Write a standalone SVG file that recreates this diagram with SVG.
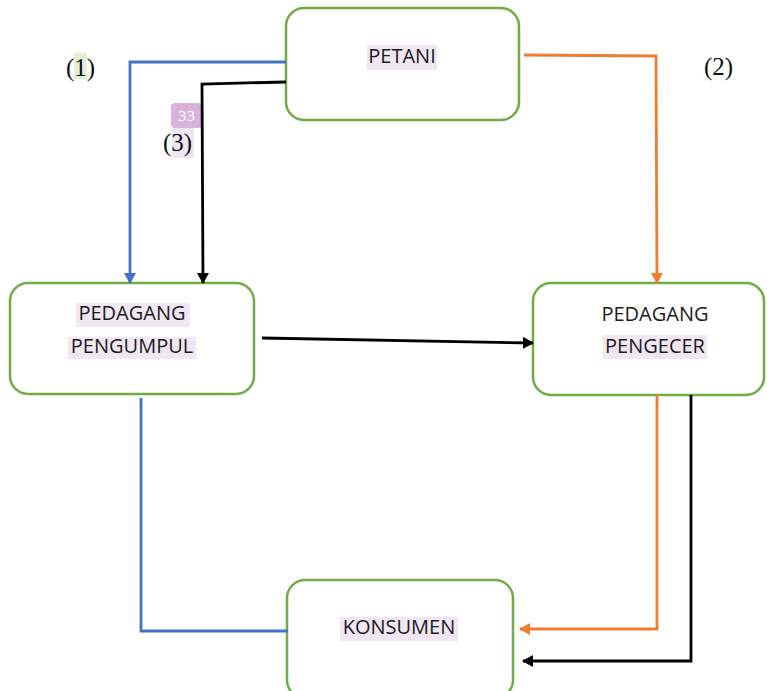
<svg xmlns="http://www.w3.org/2000/svg" width="767" height="691" viewBox="0 0 767 691">
<style>
.box{fill:#fff;stroke:#70AD47;stroke-width:2.5}
.t{font-family:"Open Sans","Liberation Sans",sans-serif;font-size:20px;fill:#1a1a1a;text-anchor:middle}
.hl{fill:#F1E6F4}
.lab{font-family:"Liberation Serif","Times New Roman",serif;font-size:25px;fill:#111}
.c{fill:none;stroke-width:2.8;stroke-linejoin:miter}
</style>
<defs>
<marker id="ab" markerUnits="userSpaceOnUse" markerWidth="12" markerHeight="12" refX="10" refY="6" orient="auto"><path d="M0,0 L11,6 L0,12 z" fill="#4472C4"/></marker>
<marker id="ak" markerUnits="userSpaceOnUse" markerWidth="12" markerHeight="12" refX="10" refY="6" orient="auto"><path d="M0,0 L11,6 L0,12 z" fill="#000"/></marker>
<marker id="ao" markerUnits="userSpaceOnUse" markerWidth="12" markerHeight="12" refX="10" refY="6" orient="auto"><path d="M0,0 L11,6 L0,12 z" fill="#ED7D31"/></marker>
</defs>
<rect width="767" height="691" fill="#fff"/>

<g id="petani">
<rect class="box" x="286" y="8" width="233" height="112" rx="18"/>
<rect class="hl" x="367" y="45" width="70" height="25"/>
<text class="t" x="402" y="63">PETANI</text>
</g>
<g id="pengumpul">
<rect class="box" x="10" y="283" width="244" height="111" rx="18"/>
<rect class="hl" x="76" y="303" width="114" height="24"/>
<rect class="hl" x="68" y="337" width="128" height="22"/>
<text class="t" x="132" y="320">PEDAGANG</text>
<text class="t" x="132" y="353">PENGUMPUL</text>
</g>
<g id="pengecer">
<rect class="box" x="533" y="283" width="231" height="112" rx="18"/>
<rect class="hl" x="603" y="335" width="104" height="24"/>
<text class="t" x="655" y="321">PEDAGANG</text>
<text class="t" x="655" y="353">PENGECER</text>
</g>
<g id="konsumen">
<rect class="box" x="287" y="580" width="226" height="118" rx="18"/>
<rect class="hl" x="340" y="617" width="118" height="24"/>
<text class="t" x="399" y="634">KONSUMEN</text>
</g>

<g id="labels">
<rect x="74" y="53" width="13" height="26" fill="#E2F0D9"/>
<text class="lab" x="66" y="76">(1)</text>
<text class="lab" x="704" y="75">(2)</text>
<rect x="171" y="103" width="31" height="25" rx="4" fill="#D8B4DD"/>
<text x="186.5" y="121" font-family="Open Sans, sans-serif" font-size="15" fill="#fff" text-anchor="middle">33</text>
<rect x="172" y="128" width="22" height="30" fill="#F1E6F4"/>
<text class="lab" x="163" y="151">(3)</text>
</g>

<g id="connectors">
<polyline class="c" stroke="#4472C4" points="286,62 130,62 130,283" marker-end="url(#ab)"/>
<polyline class="c" stroke="#000" points="286,82 202,84 203,283" marker-end="url(#ak)"/>
<polyline class="c" stroke="#ED7D31" points="524,55 656,56 657,283" marker-end="url(#ao)"/>
<line class="c" stroke="#000" x1="262" y1="338" x2="533" y2="343" marker-end="url(#ak)"/>
<polyline class="c" stroke="#4472C4" points="141,398 141,631 288,631"/>
<polyline class="c" stroke="#ED7D31" points="657,395 657,629 520,629" marker-end="url(#ao)"/>
<polyline class="c" stroke="#000" points="691,395 691,661 523,661" marker-end="url(#ak)"/>
</g>
</svg>
